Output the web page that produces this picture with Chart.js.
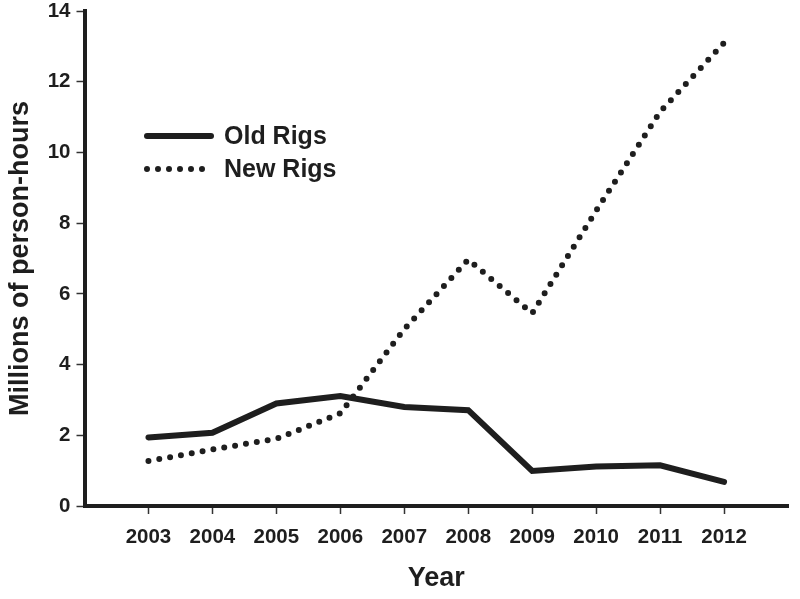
<!DOCTYPE html>
<html>
<head>
    <meta charset="utf-8">
    <title>Old vs new rigs</title>
    <script src="https://cdn.jsdelivr.net/npm/chart.js@4.4.1/dist/chart.umd.min.js"></script>
    <style>
        body { margin: 0; background: #fff; }
    </style>
</head>
<body>
    <canvas id="myChart" width="800" height="599"></canvas>
    <script>
        const years = [2003, 2004, 2005, 2006, 2007, 2008, 2009, 2010, 2011, 2012];
        const oldRigs = [1.94, 2.07, 2.9, 3.11, 2.8, 2.71, 0.99, 1.12, 1.15, 0.68];
        const newRigs = [1.27, 1.6, 1.9, 2.62, 5.0, 6.97, 5.45, 8.35, 11.15, 13.1];
        const yTicks = [0, 2, 4, 6, 8, 10, 12, 14];

        const ink = '#1e1e1e';
        const fontFamily = '"Liberation Sans", Arial, sans-serif';

        // legend drawn inside the plot, top left
        const insideLegend = {
            id: 'insideLegend',
            afterDraw(chart) {
                const ctx = chart.ctx;
                ctx.save();
                ctx.font = 'bold 25px ' + fontFamily;
                ctx.textBaseline = 'middle';
                ctx.fillStyle = ink;
                chart.data.datasets.forEach((ds, i) => {
                    const y = 136 + i * 33;
                    ctx.beginPath();
                    ctx.strokeStyle = ds.borderColor;
                    ctx.lineWidth = ds.borderWidth;
                    ctx.lineCap = 'round';
                    ctx.setLineDash(ds.borderDash || []);
                    ctx.moveTo(147, y);
                    ctx.lineTo(i === 0 ? 211 : 206, y);
                    ctx.stroke();
                    ctx.setLineDash([]);
                    ctx.fillText(ds.label, 224, y + 1);
                });
                ctx.restore();
            }
        };

        const ctx = document.getElementById('myChart').getContext('2d');
        const myChart = new Chart(ctx, {
            type: 'line',
            data: {
                datasets: [{
                    label: 'Old Rigs',
                    data: years.map((yr, i) => ({x: yr, y: oldRigs[i]})),
                    borderColor: ink,
                    borderWidth: 6,
                    borderCapStyle: 'round',
                    pointRadius: 0,
                    tension: 0
                }, {
                    label: 'New Rigs',
                    data: years.map((yr, i) => ({x: yr, y: newRigs[i]})),
                    borderColor: ink,
                    borderWidth: 6,
                    borderCapStyle: 'round',
                    borderDash: [0, 11],
                    pointRadius: 0,
                    tension: 0
                }]
            },
            options: {
                responsive: false,
                animation: false,
                layout: { padding: { top: 11, right: 12, left: 0, bottom: 0 } },
                plugins: {
                    legend: { display: false },
                    tooltip: { enabled: false }
                },
                scales: {
                    x: {
                        type: 'linear',
                        min: 2002,
                        max: 2013,
                        afterBuildTicks: scale => { scale.ticks = years.map(v => ({value: v})); },
                        afterFit: scale => { scale.height = 93; scale.paddingLeft = 0; scale.paddingRight = 0; },
                        border: { display: true, color: ink, width: 4 },
                        grid: { drawOnChartArea: false, drawTicks: true, tickLength: 8, tickColor: '#333', tickWidth: 1.5 },
                        ticks: {
                            color: ink,
                            padding: 11,
                            maxRotation: 0,
                            font: { family: fontFamily, size: 20.5, weight: 'bold' },
                            callback: v => String(v)
                        },
                        title: {
                            display: true,
                            text: 'Year',
                            color: ink,
                            padding: { top: 4, bottom: 4 },
                            font: { family: fontFamily, size: 27, weight: 'bold' }
                        }
                    },
                    y: {
                        min: 0,
                        max: 14,
                        afterBuildTicks: scale => { scale.ticks = yTicks.map(v => ({value: v})); },
                        afterFit: scale => { scale.width = 84.5; scale.paddingTop = 0; scale.paddingBottom = 0; },
                        border: { display: true, color: ink, width: 4 },
                        grid: { drawOnChartArea: false, drawTicks: true, tickLength: 8, tickColor: '#333', tickWidth: 1.5 },
                        ticks: {
                            color: ink,
                            padding: 6,
                            font: { family: fontFamily, size: 20.5, weight: 'bold' },
                            callback: v => String(v)
                        },
                        title: {
                            display: true,
                            text: 'Millions of person-hours',
                            color: ink,
                            padding: { top: 4, bottom: 4 },
                            font: { family: fontFamily, size: 27, weight: 'bold' }
                        }
                    }
                }
            },
            plugins: [insideLegend]
        });
    </script>
</body>
</html>
